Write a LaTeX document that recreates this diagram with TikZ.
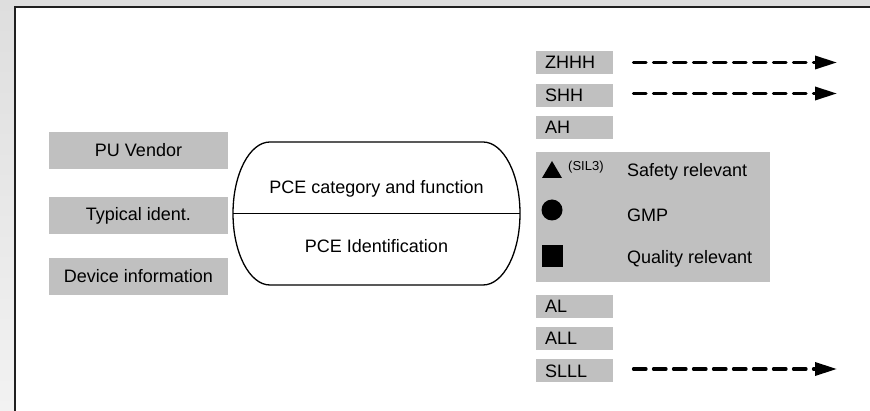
\documentclass[tikz,border=0pt]{standalone}
\usepackage{fontspec}
\setmainfont{Liberation Sans}
\usetikzlibrary{arrows.meta}
\definecolor{boxgray}{HTML}{C0C0C0}
\definecolor{bgtop}{HTML}{DEDEDE}
\definecolor{bgbot}{HTML}{F2F2F2}
\definecolor{framec}{HTML}{202020}
\begin{document}
\begin{tikzpicture}[x=1pt,y=-1pt,
  lbox/.style={fill=boxgray, minimum width=179pt, minimum height=37pt, inner sep=0pt, font=\fontsize{18}{21}\selectfont},
  rbox/.style={fill=boxgray, anchor=west, minimum height=23pt, text width=59pt, align=left, inner xsep=9pt, inner ysep=0pt, font=\fontsize{18}{21}\selectfont},
  txt/.style={inner sep=0pt, font=\fontsize{18}{21}\selectfont},
  legtxt/.style={inner sep=0pt, anchor=west, font=\fontsize{18}{21}\selectfont},
  dasharrow/.style={line width=3.3pt, line cap=round, dash pattern=on 12.5pt off 7.5pt, -{Triangle[length=22pt,width=13pt,line cap=butt]}},
  outline/.style={line width=1.3pt, draw=black}
]
\useasboundingbox (0,0) rectangle (870,411);
\shade[top color=bgtop, bottom color=bgbot] (0,0) rectangle (870,411);
\fill[white] (15,7) rectangle (870,411);
\draw[framec, line width=2pt] (15,411) -- (15,7) -- (870,7);

% left boxes
\node[lbox] (vendor) at (138.5,150.5) {PU Vendor};
\node[lbox] (ident) at (138.5,215.5) {Typical ident.};
\node[lbox] (device) at (138.5,276.5) {Device information};

% stadium
\draw[outline] (270,142) -- (483,142) arc[start angle=-90, end angle=90, x radius=37, y radius=71.5]
  -- (270,285) arc[start angle=90, end angle=270, x radius=37, y radius=71.5] -- cycle;
\draw[outline] (233,213.5) -- (520,213.5);
\node[txt] (cat) at (376.5,189) {PCE category and function};
\node[txt] (pceid) at (376.5,246) {PCE Identification};

% right boxes
\node[rbox] (zhhh) at (536,62.5) {ZHHH};
\node[rbox] (shh) at (536,95.5) {SHH};
\node[rbox] (ah) at (536,127.5) {AH};
\node[rbox] (al) at (536,306.5) {AL};
\node[rbox] (all) at (536,338.5) {ALL};
\node[rbox] (slll) at (536,371) {SLLL};

% legend
\node[fill=boxgray, minimum width=234pt, minimum height=130pt, inner sep=0pt] (legend) at (653,217) {};
\fill[black] (542,178) -- (562,178) -- (552,161) -- cycle;
\node[inner sep=0pt, anchor=west, font=\fontsize{13}{15}\selectfont] (sil) at (568,167) {(SIL3)};
\node[legtxt] (safety) at (627,172) {Safety relevant};
\fill[black] (552,210) circle[radius=10.5];
\node[legtxt] (gmp) at (627,215) {GMP};
\fill[black] (542,245) rectangle (563,267);
\node[legtxt] (quality) at (627,259) {Quality relevant};

% arrows
\coordinate (z1) at (633.5,62.5); \coordinate (z2) at (837,62.5);
\coordinate (s1) at (633.5,93.5); \coordinate (s2) at (837,93.5);
\coordinate (l1) at (633.5,369); \coordinate (l2) at (837,369);
\draw[dasharrow] (z1) -- (z2);
\draw[dasharrow] (s1) -- (s2);
\draw[dasharrow] (l1) -- (l2);
\end{tikzpicture}
\end{document}
